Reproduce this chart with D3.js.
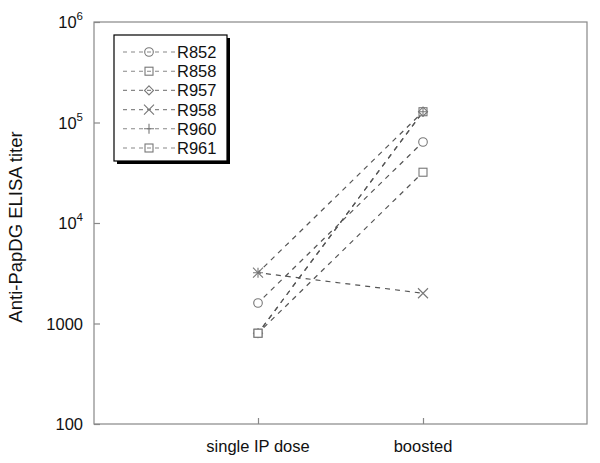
<!DOCTYPE html>
<html><head><meta charset="utf-8">
<script src="https://cdn.jsdelivr.net/npm/d3@7"></script>
<style>body{margin:0;background:#fff}svg{display:block;font-family:"Liberation Sans",Arial,sans-serif}</style>
</head><body><svg id="c" width="600" height="463"></svg>
<script>
const groups = ["single IP dose", "boosted"];
const seriesNames = ["R852", "R858", "R957", "R958", "R960", "R961"];
const symbols = ["circle", "square", "diamond", "cross", "plus", "square"];
const singleDose = [1600, 800, 800, 3200, 3200, 800];
const boosted = [64000, 128000, 128000, 2000, 128000, 32000];
const yTicks = [100, 1000, 1e4, 1e5, 1e6];
const yTickLabels = ["100", "1000", "10|4", "10|5", "10|6"];

const svg = d3.select("#c");
const L = 94, R = 587, T = 22, B = 424;
const xPos = d3.scalePoint().domain(groups).range([258, 423]);
const y = d3.scaleLog().domain([100, 1e6]).range([B, T]);

const frameCol = "#888", lineCol = "#555", markCol = "#777";
const g = svg.append("g");
g.append("rect").attr("x", L).attr("y", T).attr("width", R - L).attr("height", B - T)
  .attr("fill", "none").attr("stroke", frameCol).attr("stroke-width", 1.2);

// y axis ticks (inward)
const yAxis = d3.axisRight(y).tickValues(yTicks).tickSize(6).tickFormat("");
const ya = g.append("g").attr("transform", `translate(${L},0)`).call(yAxis);
ya.select(".domain").remove();
ya.selectAll("line").attr("stroke", frameCol).attr("stroke-width", 1.2);
yTicks.forEach((v, i) => {
  const parts = yTickLabels[i].split("|");
  const t = g.append("text").attr("x", 83).attr("y", y(v) + 6).attr("text-anchor", "end")
    .attr("font-size", 16.5).attr("fill", "#111");
  if (parts.length === 2) {
    t.append("tspan").text(parts[0]);
    t.append("tspan").attr("font-size", 11.5).attr("dy", -8).text(parts[1]);
  } else t.text(parts[0]);
});

// x axis ticks (inward)
const xAxis = d3.axisTop(xPos).tickSize(6).tickFormat("");
const xa = g.append("g").attr("transform", `translate(0,${B})`).call(xAxis);
xa.select(".domain").remove();
xa.selectAll("line").attr("stroke", frameCol).attr("stroke-width", 1.2);
groups.forEach(gr => {
  g.append("text").attr("x", xPos(gr)).attr("y", 452).attr("text-anchor", "middle")
    .attr("font-size", 16.5).attr("fill", "#111").text(gr);
});

g.append("text").attr("transform", "translate(22,227) rotate(-90)").attr("text-anchor", "middle")
  .attr("font-size", 18.5).attr("fill", "#111").text("Anti-PapDG ELISA titer");

function marker(sel, sym, cx, cy) {
  const s = 4;
  if (sym === "circle") sel.append("circle").attr("cx", cx).attr("cy", cy).attr("r", 4.3);
  else if (sym === "square") sel.append("rect").attr("x", cx - s).attr("y", cy - s).attr("width", 2 * s).attr("height", 2 * s);
  else if (sym === "diamond") sel.append("path").attr("d", `M${cx},${cy - 4.5}L${cx + 4.5},${cy}L${cx},${cy + 4.5}L${cx - 4.5},${cy}Z`);
  else if (sym === "cross") sel.append("path").attr("d", `M${cx - 5},${cy - 5}L${cx + 5},${cy + 5}M${cx - 5},${cy + 5}L${cx + 5},${cy - 5}`);
  else if (sym === "plus") sel.append("path").attr("d", `M${cx - 5},${cy}L${cx + 5},${cy}M${cx},${cy - 5}L${cx},${cy + 5}`);
}

const line = d3.line().x(d => xPos(d.g)).y(d => y(d.v));
seriesNames.forEach((n, i) => {
  const data = [{g: groups[0], v: singleDose[i]}, {g: groups[1], v: boosted[i]}];
  g.append("path").attr("d", line(data)).attr("fill", "none").attr("stroke", lineCol)
    .attr("stroke-width", 1.2).attr("stroke-dasharray", "5,5").attr("stroke-dashoffset", -8);
});
seriesNames.forEach((n, i) => {
  const data = [{g: groups[0], v: singleDose[i]}, {g: groups[1], v: boosted[i]}];
  const mg = g.append("g").attr("fill", "#fff").attr("stroke", markCol).attr("stroke-width", 1.1);
  data.forEach(d => marker(mg, symbols[i], xPos(d.g), y(d.v)));
});

// legend
const lg = svg.append("g");
lg.append("rect").attr("x", 117).attr("y", 38).attr("width", 113).attr("height", 126).attr("fill", "#000");
lg.append("rect").attr("x", 114).attr("y", 35).attr("width", 113).attr("height", 126)
  .attr("fill", "#fff").attr("stroke", "#000").attr("stroke-width", 1.2);
seriesNames.forEach((n, i) => {
  const yy = 52 + i * 19.2;
  lg.append("line").attr("x1", 123).attr("x2", 175).attr("y1", yy).attr("y2", yy)
    .attr("stroke", "#888").attr("stroke-width", 1.1).attr("stroke-dasharray", "4,4");
  const mg = lg.append("g").attr("fill", "none").attr("stroke", markCol).attr("stroke-width", 1.1);
  marker(mg, symbols[i], 149, yy);
  lg.append("text").attr("x", 177).attr("y", yy + 6).attr("font-size", 16.5).attr("fill", "#111").text(n);
});
</script></body></html>
